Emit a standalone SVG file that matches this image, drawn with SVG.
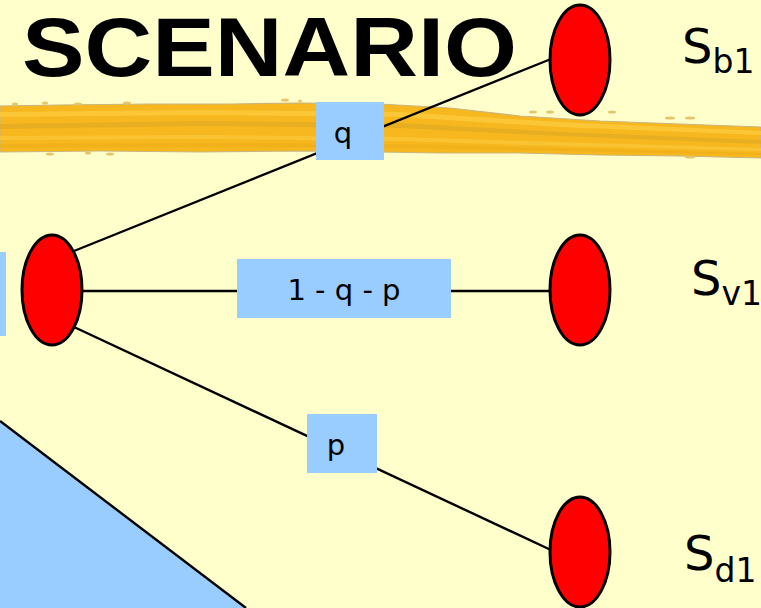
<svg xmlns="http://www.w3.org/2000/svg" width="761" height="608" viewBox="0 0 761 608">
<defs>
<style>
.node{fill:#FF0000;stroke:#000;stroke-width:3}
.conn{stroke:#000;stroke-width:2.4;fill:none}
.lbl{fill:#99CCFF}
.lt{font-family:"DejaVu Sans",Verdana,sans-serif;font-size:29px;fill:#000;text-anchor:middle}
.st{font-family:"DejaVu Sans",Verdana,sans-serif;font-size:48px;fill:#000}
.sub{font-size:33px}
</style>
</defs>
<rect width="761" height="608" fill="#FFFFCC"/>
<!-- brush stroke -->
<g id="brush">
<path d="M0,106 L60,105 L150,104 L230,104 L300,103 L380,104 L450,108 L520,116 L600,121 L680,124 L761,127 L761,158 L680,156 L600,155 L520,153 L440,153 L380,152 L300,151 L200,152 L100,151 L0,152 Z" fill="#F6B81E" stroke="#C9B57A" stroke-width="1.2"/>
<path d="M0,112 L200,110 L400,112 L560,122 L761,131 L761,135 L560,127 L400,117 L200,115 L0,117 Z" fill="#FCCB3C" opacity="0.8"/>
<path d="M0,124 L200,121 L400,123 L560,132 L761,140 L761,144 L560,136 L400,128 L200,126 L0,129 Z" fill="#E3AA22" opacity="0.7"/>
<path d="M0,136 L200,135 L400,137 L560,142 L761,148 L761,151 L560,146 L400,141 L200,139 L0,140 Z" fill="#FBC636" opacity="0.8"/>
<path d="M0,144 L200,143 L400,144 L761,153 L761,155 L400,148 L200,147 L0,148 Z" fill="#EFAE1A" opacity="0.7"/>
<g fill="#E6C46A">
<ellipse cx="15" cy="104" rx="3" ry="1.5"/><ellipse cx="45" cy="103" rx="3" ry="1.5"/><ellipse cx="78" cy="104" rx="4" ry="1.5"/>
<ellipse cx="127" cy="103" rx="4" ry="1.5"/><ellipse cx="285" cy="100" rx="4" ry="1.5"/><ellipse cx="300" cy="101" rx="2" ry="1.2"/>
<ellipse cx="533" cy="112" rx="4" ry="1.5"/><ellipse cx="550" cy="112" rx="4" ry="1.5"/><ellipse cx="612" cy="112" rx="4" ry="1.5"/>
<ellipse cx="670" cy="118" rx="5" ry="1.5"/><ellipse cx="690" cy="118" rx="5" ry="1.5"/>
<ellipse cx="50" cy="154" rx="4" ry="1.5"/><ellipse cx="88" cy="153" rx="3" ry="1.5"/><ellipse cx="110" cy="154" rx="4" ry="1.5"/>
<ellipse cx="690" cy="157" rx="5" ry="1.5"/>
</g>
</g>
<!-- left blue bar and triangle -->
<rect x="0" y="252" width="6" height="84" fill="#99CCFF"/>
<path d="M0,421 L246,608 L0,608 Z" fill="#99CCFF"/>
<line x1="0" y1="421" x2="246" y2="608" stroke="#000" stroke-width="2.4"/>
<!-- title -->
<text x="22" y="76" font-family="'Liberation Sans',Arial,sans-serif" font-weight="bold" font-size="84" textLength="495" lengthAdjust="spacingAndGlyphs" fill="#000">SCENARIO</text>
<!-- connectors -->
<g id="connectors">
<line class="conn" x1="74" y1="251" x2="551" y2="59"/>
<line class="conn" x1="83" y1="291" x2="551" y2="291"/>
<line class="conn" x1="74" y1="327" x2="551" y2="550"/>
</g>
<!-- edge labels -->
<g id="label-q"><rect class="lbl" x="316" y="102" width="68" height="58"/><text class="lt" x="343" y="143">q</text></g>
<g id="label-1qp"><rect class="lbl" x="237" y="259" width="214" height="59"/><text class="lt" x="344" y="300">1 - q - p</text></g>
<g id="label-p"><rect class="lbl" x="307" y="414" width="70" height="59"/><text class="lt" x="336" y="455">p</text></g>
<!-- nodes -->
<g id="node-root"><ellipse class="node" cx="52" cy="290" rx="30" ry="55"/></g>
<g id="node-sb1"><ellipse class="node" cx="580" cy="60" rx="30" ry="55"/><text class="st" x="682" y="63">S<tspan class="sub" dy="10">b1</tspan></text></g>
<g id="node-sv1"><ellipse class="node" cx="580" cy="290" rx="30" ry="55"/><text class="st" x="691" y="295">S<tspan class="sub" dy="10">v1</tspan></text></g>
<g id="node-sd1"><ellipse class="node" cx="580" cy="552" rx="30" ry="55"/><text class="st" x="684" y="570">S<tspan class="sub" dy="12">d1</tspan></text></g>
</svg>
